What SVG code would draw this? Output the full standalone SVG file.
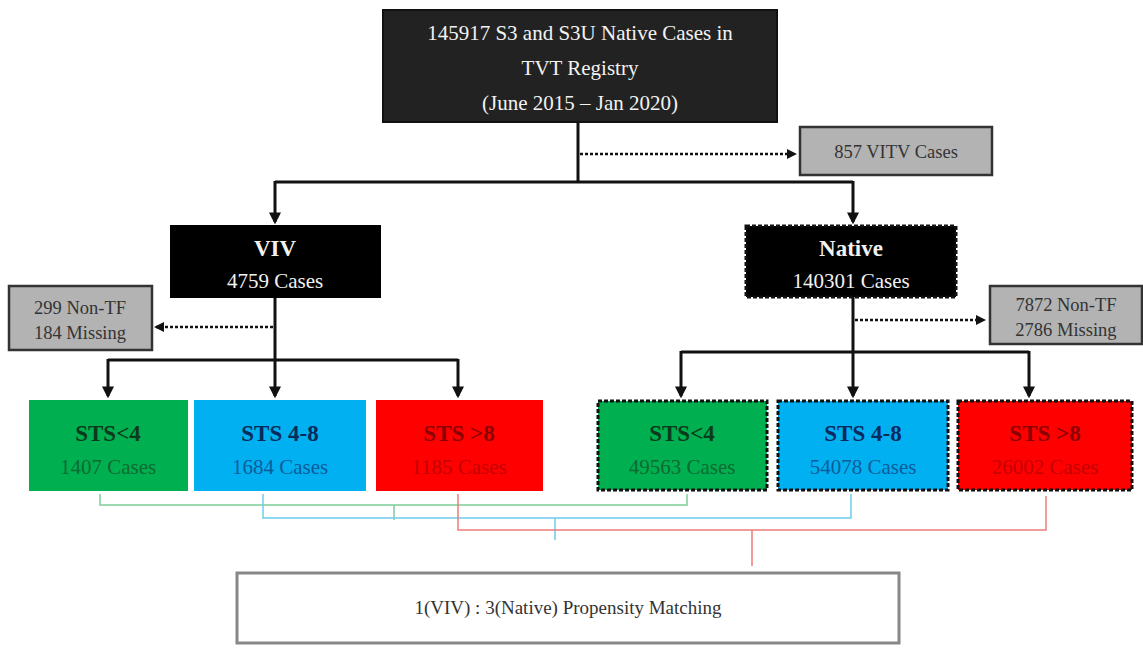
<svg xmlns="http://www.w3.org/2000/svg" width="1143" height="649" viewBox="0 0 1143 649" font-family="'Liberation Serif','Times New Roman',serif">
<style>
text{font-family:"Liberation Serif","Times New Roman",serif;text-anchor:middle}
.w{fill:#f2f2f2}
.t{font-size:17px}
.tt{font-size:21px}
.c{font-size:21px}
.g{font-size:18.5px;fill:#333}
.b{font-size:23px;font-weight:bold}
.ln{stroke:#111;stroke-width:3;fill:none}
.dl{stroke:#111;stroke-width:2.5;fill:none;stroke-dasharray:3 2}
.gray{fill:#b3b3b3;stroke:#333;stroke-width:2.5}
.dash{stroke:#111;stroke-width:3;stroke-dasharray:4 2}
.br{fill:none;stroke-width:1.5}
</style>
<defs>
<marker id="ah" viewBox="0 0 10 10" refX="8" refY="5" markerWidth="4" markerHeight="4" orient="auto"><path d="M0,0 L10,5 L0,10 z" fill="#111"/></marker>
</defs>
<rect width="1143" height="649" fill="#fff"/>
<g id="connectors">
<path class="ln" d="M578,122 V182"/>
<path class="dl" d="M580,154 H795" marker-end="url(#ah)"/>
<path class="ln" d="M275,182 H853"/>
<path class="ln" d="M275,181 V222" marker-end="url(#ah)"/>
<path class="ln" d="M853,181 V222" marker-end="url(#ah)"/>
<path class="ln" d="M275,298 V360"/>
<path class="dl" d="M273,327 H156" marker-end="url(#ah)"/>
<path class="ln" d="M108,360 H458"/>
<path class="ln" d="M108,359 V396" marker-end="url(#ah)"/>
<path class="ln" d="M275,359 V396" marker-end="url(#ah)"/>
<path class="ln" d="M458,359 V396" marker-end="url(#ah)"/>
<path class="ln" d="M853,297 V352"/>
<path class="dl" d="M855,320 H984" marker-end="url(#ah)"/>
<path class="ln" d="M681,352 H1029"/>
<path class="ln" d="M681,351 V396" marker-end="url(#ah)"/>
<path class="ln" d="M853,351 V396" marker-end="url(#ah)"/>
<path class="ln" d="M1029,351 V396" marker-end="url(#ah)"/>
<path class="br" stroke="#7ccf98" d="M100,494 V505 H687 V494 M394,505 V520"/>
<path class="br" stroke="#6fcbea" d="M263,494 V518 H851 V494 M555,518 V540"/>
<path class="br" stroke="#ee7b7b" d="M458,494 V530 H1046 V496 M752,530 V566"/>
</g>
<g id="top">
<rect x="383" y="10" width="394" height="112" fill="#222" stroke="#111" stroke-width="2"/>
<text class="tt w" x="580" y="40">145917 S3 and S3U Native Cases in</text>
<text class="tt w" x="580" y="75">TVT Registry</text>
<text class="tt w" x="580" y="110">(June 2015 – Jan 2020)</text>
</g>
<g id="vitv">
<rect class="gray" x="800" y="127" width="192" height="48"/>
<text class="g" x="896" y="158">857 VITV Cases</text>
</g>
<g id="viv">
<rect x="170" y="225" width="211" height="73" fill="#000"/>
<text class="b w" x="275" y="256">VIV</text>
<text class="c w" x="275" y="288">4759 Cases</text>
</g>
<g id="native">
<rect class="dash" x="746" y="226" width="210" height="71" fill="#000"/>
<text class="b w" x="851" y="256">Native</text>
<text class="c w" x="851" y="288">140301 Cases</text>
</g>
<g id="viv-excl">
<rect class="gray" x="9" y="286" width="143" height="64"/>
<text class="g" x="80" y="314">299 Non-TF</text>
<text class="g" x="80" y="339">184 Missing</text>
</g>
<g id="native-excl">
<rect class="gray" x="990" y="286" width="152" height="58"/>
<text class="g" x="1066" y="311">7872 Non-TF</text>
<text class="g" x="1066" y="336">2786 Missing</text>
</g>
<g id="viv-sts4">
<rect x="29" y="400" width="159" height="91" fill="#00b050"/>
<text class="b" x="108" y="441" fill="#0b3a1c">STS&lt;4</text>
<text class="c" x="108" y="474" fill="#0e6a30">1407 Cases</text>
</g>
<g id="viv-sts48">
<rect x="194" y="400" width="172" height="91" fill="#00b0f0"/>
<text class="b" x="280" y="441" fill="#0a2a5c">STS 4-8</text>
<text class="c" x="280" y="474" fill="#0d5c9a">1684 Cases</text>
</g>
<g id="viv-sts8">
<rect x="376" y="400" width="167" height="91" fill="#ff0000"/>
<text class="b" x="459" y="441" fill="#8b0000">STS &gt;8</text>
<text class="c" x="459" y="474" fill="#c40000">1185 Cases</text>
</g>
<g id="nat-sts4">
<rect class="dash" x="598" y="401" width="169" height="89" fill="#00b050"/>
<text class="b" x="682" y="441" fill="#0b3a1c">STS&lt;4</text>
<text class="c" x="682" y="474" fill="#0e6a30">49563 Cases</text>
</g>
<g id="nat-sts48">
<rect class="dash" x="778" y="401" width="170" height="89" fill="#00b0f0"/>
<text class="b" x="863" y="441" fill="#0a2a5c">STS 4-8</text>
<text class="c" x="863" y="474" fill="#0d5c9a">54078 Cases</text>
</g>
<g id="nat-sts8">
<rect class="dash" x="958" y="401" width="174" height="89" fill="#ff0000"/>
<text class="b" x="1045" y="441" fill="#8b0000">STS &gt;8</text>
<text class="c" x="1045" y="474" fill="#c40000">26002 Cases</text>
</g>
<g id="matching">
<rect x="237" y="573" width="662" height="70" fill="#fff" stroke="#888" stroke-width="3"/>
<text x="568" y="614" font-size="19" fill="#333">1(VIV) : 3(Native) Propensity Matching</text>
</g>
</svg>
